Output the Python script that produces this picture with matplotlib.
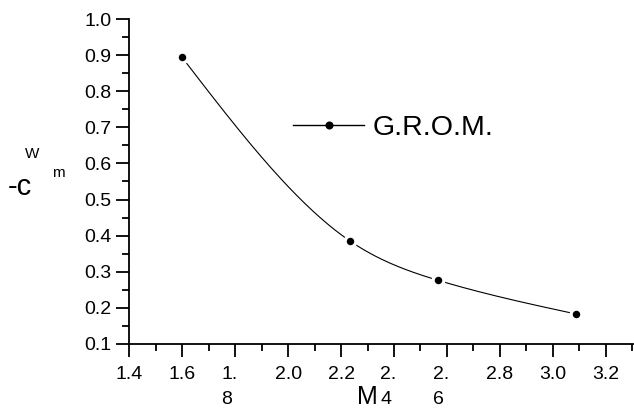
import numpy as np
import matplotlib
matplotlib.use("Agg")
import matplotlib.pyplot as plt
from matplotlib.ticker import MultipleLocator, FixedLocator
import matplotlib.transforms as mtrans

plt.rcParams['font.family'] = ['Liberation Sans', 'DejaVu Sans']

# data
mach = [1.598, 2.234, 2.568, 3.088]
cm = [0.895, 0.385, 0.276, 0.183]
series_label = "G.R.O.M."
xtick_vals = [1.4, 1.6, 1.8, 2.0, 2.2, 2.4, 2.6, 2.8, 3.0, 3.2]
xtick_labels = ["1.4", "1.6", "1.\n8", "2.0", "2.2", "2.\n4", "2.\n6", "2.8", "3.0", "3.2"]
ytick_vals = [0.1, 0.2, 0.3, 0.4, 0.5, 0.6, 0.7, 0.8, 0.9, 1.0]


def natural_spline(x, y, n=200):
    x = np.asarray(x, float)
    y = np.asarray(y, float)
    k = len(x)
    h = np.diff(x)
    A = np.zeros((k, k))
    b = np.zeros(k)
    A[0, 0] = 1
    A[-1, -1] = 1
    for i in range(1, k - 1):
        A[i, i - 1] = h[i - 1]
        A[i, i] = 2 * (h[i - 1] + h[i])
        A[i, i + 1] = h[i]
        b[i] = 3 * ((y[i + 1] - y[i]) / h[i] - (y[i] - y[i - 1]) / h[i - 1])
    c = np.linalg.solve(A, b)
    xs = np.linspace(x[0], x[-1], n)
    ys = np.empty_like(xs)
    for j, xv in enumerate(xs):
        i = min(np.searchsorted(x, xv, side='right') - 1, k - 2)
        dx = xv - x[i]
        bi = (y[i + 1] - y[i]) / h[i] - h[i] * (2 * c[i] + c[i + 1]) / 3
        di = (c[i + 1] - c[i]) / (3 * h[i])
        ys[j] = y[i] + bi * dx + c[i] * dx ** 2 + di * dx ** 3
    return xs, ys


fig = plt.figure(figsize=(6.34, 4.08), dpi=100)
ax = fig.add_axes([129.3 / 634, 64 / 408, 503.5 / 634, 325 / 408])

xs, ys = natural_spline(mach, cm)
ax.plot(xs, ys, color='black', lw=0.8, zorder=2)
ax.plot(mach, cm, 'o', color='black', ms=7.7, mec='white', mew=2.3, zorder=3)

# legend handle
ax.plot([], [], '-o', color='black', lw=1.0, ms=5.8, mec='black', mew=0, label=series_label)
leg = ax.legend(loc='center left', bbox_to_anchor=(0.3255, 0.6646), frameon=False,
                fontsize=20.5, handlelength=2.5, handletextpad=0.3, borderpad=0,
                borderaxespad=0, numpoints=1)

ax.set_xlim(1.4, 3.302)
ax.set_ylim(0.1, 1.0)
ax.xaxis.set_major_locator(FixedLocator(xtick_vals))
ax.set_xticklabels(xtick_labels, linespacing=1.6, va='top')
ax.xaxis.set_minor_locator(MultipleLocator(0.1))
ax.yaxis.set_major_locator(FixedLocator(ytick_vals))
ax.set_yticklabels([f"{v:.1f}" for v in ytick_vals])
ax.yaxis.set_minor_locator(MultipleLocator(0.05))

for s in ['top', 'right']:
    ax.spines[s].set_visible(False)
for s in ['left', 'bottom']:
    ax.spines[s].set_linewidth(1.3)

ax.tick_params(axis='both', which='major', direction='out', length=9.2, width=1.3,
               labelsize=14, pad=3.5)
ax.tick_params(axis='both', which='minor', direction='out', length=4.8, width=1.3)
ax.tick_params(axis='x', which='major', pad=6.5)

shift = mtrans.ScaledTranslation(-4 / 72, 0, fig.dpi_scale_trans)
for lab in ax.get_xticklabels():
    if "\n" in lab.get_text():
        lab.set_multialignment('left')
        lab.set_transform(lab.get_transform() + shift)

# axis labels
fig.text(357 / 634, (408 - 404) / 408, "M", fontsize=18, va='baseline', ha='left')

fig.text(8 / 634, (408 - 195) / 408, "-c", fontsize=21, va='baseline', ha='left')
fig.text(25 / 634, (408 - 158) / 408, "W", fontsize=11, va='baseline', ha='left')
fig.text(52 / 634, (408 - 177) / 408, "m", fontsize=11, va='baseline', ha='left')

fig.savefig("out.png", dpi=100)
